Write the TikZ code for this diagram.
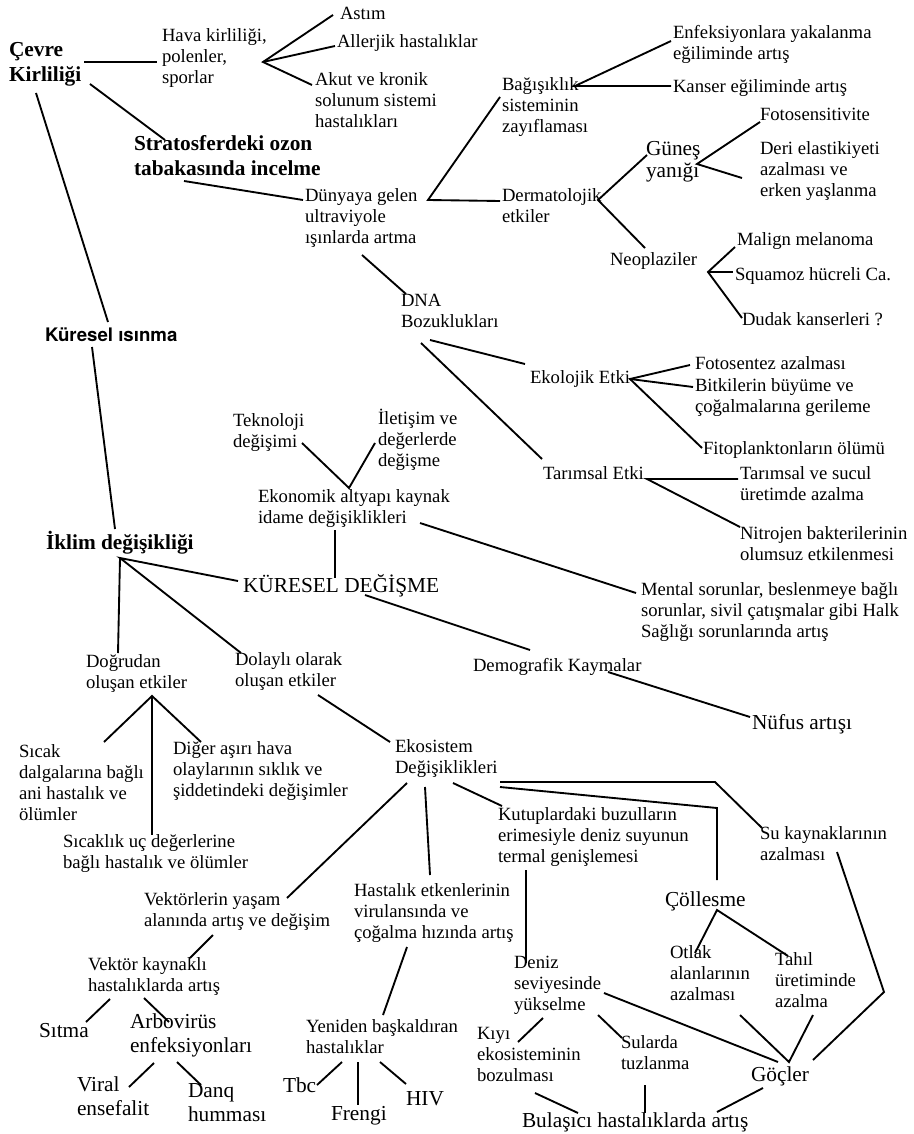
\documentclass[tikz,border=0pt]{standalone}
\usepackage{fontspec}
\setmainfont{Liberation Serif}
\newfontfamily\headsans{TeX Gyre Heros}
\tikzset{
    plain-text/.style = {anchor=north west, inner sep=0pt, outer sep=0pt, align=left, font=\fontsize{14}{15.75}\selectfont, execute at begin node={\rule{0pt}{13.5pt}}},
    big-text/.style = {plain-text, font=\fontsize{16}{18}\selectfont, execute at begin node={\rule{0pt}{15.75pt}}},
    head-text/.style = {big-text, font=\fontsize{16}{18.75}\selectfont\bfseries},
    link/.style = {line width=1.4pt},
}

\begin{document}
\begin{tikzpicture}[x=0.75pt, y=-0.75pt]
\path[use as bounding box, fill=white] (0,0) rectangle (913,1134);

% upper part
\node[head-text] (cevre) at (9,42) {Çevre\\Kirliliği};
\node[plain-text] (hava) at (162,29) {Hava kirliliği,\\polenler,\\sporlar};
\node[plain-text] (astim) at (340,2) {Astım};
\node[plain-text] (allerjik) at (337,30) {Allerjik hastalıklar};
\node[plain-text] (akut) at (315,73) {Akut ve kronik\\solunum sistemi\\hastalıkları};
\node[head-text] (strato) at (134,135) {Stratosferdeki ozon\\tabakasında incelme};
\node[plain-text] (dunya) at (305,189) {Dünyaya gelen\\ultraviyole\\ışınlarda artma};
\node[plain-text] (dna) at (401,294) {DNA\\Bozuklukları};
\node[plain-text, font=\fontsize{14}{15.75}\headsans\bfseries] (kuresel) at (45,323) {Küresel ısınma};
\node[plain-text] (bagisik) at (502,78) {Bağışıklık\\sisteminin\\zayıflaması};
\node[plain-text] (derma) at (502,189) {Dermatolojik\\etkiler};
\node[plain-text] (enfek) at (673,25) {Enfeksiyonlara yakalanma\\eğiliminde artış};
\node[plain-text] (kanser) at (673,75) {Kanser eğiliminde artış};
\node[big-text, font=\fontsize{16}{16.5}\selectfont] (gunes) at (646,141) {Güneş\\yanığı};
\node[plain-text] (fotosens) at (760,103) {Fotosensitivite};
\node[plain-text] (deri) at (760,142) {Deri elastikiyeti\\azalması ve\\erken yaşlanma};
\node[plain-text] (neopla) at (610,247) {Neoplaziler};
\node[plain-text] (malign) at (737,227) {Malign melanoma};
\node[plain-text] (squamoz) at (735,262) {Squamoz hücreli Ca.};
\node[plain-text] (dudak) at (742,307) {Dudak kanserleri ?};
\node[plain-text] (ekolojik) at (530,365) {Ekolojik Etki};
\node[plain-text] (fotosentez) at (695,351) {Fotosentez azalması};
\node[plain-text] (bitki) at (695,379) {Bitkilerin büyüme ve\\çoğalmalarına gerileme};
\node[plain-text] (fitopl) at (703,436) {Fitoplanktonların ölümü};
\node[plain-text] (tarimsal) at (543,461) {Tarımsal Etki};
\node[plain-text] (tarimsu) at (740,467) {Tarımsal ve sucul\\üretimde azalma};
\node[plain-text] (nitro) at (740,527) {Nitrojen bakterilerinin\\olumsuz etkilenmesi};

% middle part
\node[plain-text] (tekno) at (233,414) {Teknoloji\\değişimi};
\node[plain-text] (iletisim) at (378,409) {İletişim ve\\değerlerde\\değişme};
\node[plain-text] (ekonomik) at (258,490) {Ekonomik altyapı kaynak\\idame değişiklikleri};
\node[head-text] (iklim) at (46,528) {İklim değişikliği};
\node[big-text] (kdeg) at (243,571) {KÜRESEL DEĞİŞME};
\node[plain-text] (mental) at (641,583) {Mental sorunlar, beslenmeye bağlı\\sorunlar, sivil çatışmalar gibi Halk\\Sağlığı sorunlarında artış};
\node[plain-text] (demog) at (473,653) {Demografik Kaymalar};
\node[big-text] (nufus) at (752,708) {Nüfus artışı};
\node[plain-text] (dogru) at (86,655) {Doğrudan\\oluşan etkiler};
\node[plain-text] (dolayli) at (235,653) {Dolaylı olarak\\oluşan etkiler};
\node[plain-text] (sicak) at (19,745) {Sıcak\\dalgalarına bağlı\\ani hastalık ve\\ölümler};
\node[plain-text] (diger) at (173,742) {Diğer aşırı hava\\olaylarının sıklık ve\\şiddetindeki değişimler};
\node[plain-text] (sicaklik) at (63,835) {Sıcaklık uç değerlerine\\bağlı hastalık ve ölümler};
\node[plain-text] (ekosis) at (395,740) {Ekosistem\\Değişiklikleri};

% lower part
\node[plain-text] (kutup) at (498,808) {Kutuplardaki buzulların\\erimesiyle deniz suyunun\\termal genişlemesi};
\node[plain-text] (sukay) at (760,827) {Su kaynaklarının\\azalması};
\node[big-text] (colles) at (665,885) {Çöllesme};
\node[plain-text] (vektorler) at (144,893) {Vektörlerin yaşam\\alanında artış ve değişim};
\node[plain-text] (hastalik) at (354,884) {Hastalık etkenlerinin\\virulansında ve\\çoğalma hızında artış};
\node[plain-text] (vektork) at (88,958) {Vektör kaynaklı\\hastalıklarda artış};
\node[big-text] (sitma) at (39,1016) {Sıtma};
\node[big-text] (arbo) at (130,1014) {Arbovirüs\\enfeksiyonları};
\node[big-text] (viral) at (77,1077) {Viral\\ensefalit};
\node[big-text] (danq) at (188,1084) {Danq\\humması};
\node[plain-text] (yeniden) at (306,1020) {Yeniden başkaldıran\\hastalıklar};
\node[big-text] (tbc) at (283,1071) {Tbc};
\node[big-text] (frengi) at (331,1099) {Frengi};
\node[big-text] (hiv) at (406,1084) {HIV};
\node[plain-text] (deniz) at (514,956) {Deniz\\seviyesinde\\yükselme};
\node[plain-text] (otlak) at (670,946) {Otlak\\alanlarının\\azalması};
\node[plain-text] (tahil) at (775,953) {Tahıl\\üretiminde\\azalma};
\node[plain-text] (kiyi) at (477,1027) {Kıyı\\ekosisteminin\\bozulması};
\node[plain-text] (sularda) at (621,1036) {Sularda\\tuzlanma};
\node[big-text] (gocler) at (751,1060) {Göçler};
\node[big-text] (bulas) at (522,1106) {Bulaşıcı hastalıklarda artış};

% branching points
\coordinate (hava-fan) at ([shift={(101,33)}]hava.north west);
\coordinate (dunya-fan) at ([shift={(123,11)}]dunya.north west);
\coordinate (bagisik-fan) at ([shift={(73,8)}]bagisik.north west);
\coordinate (derma-fan) at ([shift={(96,11)}]derma.north west);
\coordinate (gunes-fan) at ([shift={(51,23)}]gunes.north west);
\coordinate (neopla-fan) at ([shift={(98,25)}]neopla.north west);
\coordinate (ekolojik-fan) at ([shift={(100,14)}]ekolojik.north west);
\coordinate (tarimsal-fan) at ([shift={(104,18)}]tarimsal.north west);
\coordinate (ekonomik-top) at ([shift={(91,-2)}]ekonomik.north west);
\coordinate (iklim-fan) at ([shift={(74,30)}]iklim.north west);
\coordinate (dogru-fan) at ([shift={(66,41)}]dogru.north west);
\coordinate (colles-fan) at ([shift={(52,25)}]colles.north west);

% links
\draw[link] ([shift={(75,20)}]cevre.north west) -- ([shift={(-5,33)}]hava.north west);
\draw[link] ([shift={(81,42)}]cevre.north west) -- ([shift={(31,5)}]strato.north west);
\draw[link] ([shift={(27,51)}]cevre.north west) -- ([shift={(63,-1)}]kuresel.north west);
\draw[link] ([shift={(47,24)}]kuresel.north west) -- ([shift={(69,1)}]iklim.north west);
\draw[link] ([shift={(-7,13)}]astim.north west) -- (hava-fan) -- ([shift={(-3,12)}]akut.north west);
\draw[link] (hava-fan) -- ([shift={(-2,16)}]allerjik.north west);
\draw[link] ([shift={(50,46)}]strato.north west) -- ([shift={(-2,11)}]dunya.north west);
\draw[link] ([shift={(-2,19)}]bagisik.north west) -- (dunya-fan) -- ([shift={(-2,12)}]derma.north west);
\draw[link] ([shift={(57,66)}]dunya.north west) -- ([shift={(5,0)}]dna.north west);
\draw[link] ([shift={(-2,16)}]enfek.north west) -- (bagisik-fan) -- ([shift={(-2,11)}]kanser.north west);
\draw[link] ([shift={(1,14)}]gunes.north west) -- (derma-fan) -- ([shift={(35,1)}]neopla.north west);
\draw[link] ([shift={(0,19)}]fotosens.north west) -- (gunes-fan) -- ([shift={(-18,36)}]deri.north west);
\draw[link] ([shift={(-2,20)}]malign.north west) -- (neopla-fan) -- ([shift={(0,11)}]dudak.north west);
\draw[link] (neopla-fan) -- ([shift={(-2,10)}]squamoz.north west);
\draw[link] ([shift={(29,46)}]dna.north west) -- ([shift={(-5,-1)}]ekolojik.north west);
\draw[link] ([shift={(20,49)}]dna.north west) -- ([shift={(-1,-2)}]tarimsal.north west);
\draw[link] ([shift={(-5,14)}]fotosentez.north west) -- (ekolojik-fan) -- ([shift={(-1,12)}]fitopl.north west);
\draw[link] (ekolojik-fan) -- ([shift={(-2,8)}]bitki.north west);
\draw[link] ([shift={(-2,12)}]tarimsu.north west) -- (tarimsal-fan) -- (nitro.north west);
\draw[link] ([shift={(69,29)}]tekno.north west) -- (ekonomik-top) -- ([shift={(-3,34)}]iletisim.north west);
\draw[link] ([shift={(77,40)}]ekonomik.north west) -- ([shift={(92,7)}]kdeg.north west);
\draw[link] ([shift={(162,33)}]ekonomik.north west) -- ([shift={(-5,10)}]mental.north west);
\draw[link] ([shift={(-5,10)}]kdeg.north west) -- (iklim-fan) -- ([shift={(6,0)}]dolayli.north west);
\draw[link] (iklim-fan) -- ([shift={(32,-2)}]dogru.north west);
\draw[link] ([shift={(122,24)}]kdeg.north west) -- ([shift={(57,-3)}]demog.north west);
\draw[link] ([shift={(135,19)}]demog.north west) -- ([shift={(-2,9)}]nufus.north west);
\draw[link] ([shift={(85,-3)}]sicak.north west) -- (dogru-fan) -- ([shift={(28,0)}]diger.north west);
\draw[link] (dogru-fan) -- ([shift={(89,0)}]sicaklik.north west);
\draw[link] ([shift={(83,42)}]dolayli.north west) -- ([shift={(-5,2)}]ekosis.north west);
\draw[link] ([shift={(12,43)}]ekosis.north west) -- ([shift={(143,5)}]vektorler.north west);
\draw[link] ([shift={(30,47)}]ekosis.north west) -- ([shift={(76,-9)}]hastalik.north west);
\draw[link] ([shift={(58,43)}]ekosis.north west) -- ([shift={(4,-2)}]kutup.north west);
\draw[link] ([shift={(105,47)}]ekosis.north west) -- ([shift={(52,-77)}]colles.north west) -- ([shift={(52,-5)}]colles.north west);
\draw[link] ([shift={(105,42)}]ekosis.north west) -- ([shift={(-45,-45)}]sukay.north west) -- ([shift={(2,1)}]sukay.north west);
\draw[link] ([shift={(77,25)}]sukay.north west) -- ([shift={(133,-68)}]gocler.north west) -- ([shift={(62,0)}]gocler.north west);
\draw[link] ([shift={(28,62)}]kutup.north west) -- ([shift={(12,7)}]deniz.north west);
\draw[link] ([shift={(25,7)}]otlak.north west) -- (colles-fan) -- ([shift={(13,3)}]tahil.north west);
\draw[link] ([shift={(70,69)}]otlak.north west) -- ([shift={(38,2)}]gocler.north west) -- ([shift={(38,62)}]tahil.north west);
\draw[link] ([shift={(90,37)}]deniz.north west) -- ([shift={(27,2)}]gocler.north west);
\draw[link] ([shift={(29,62)}]deniz.north west) -- ([shift={(41,15)}]kiyi.north west);
\draw[link] ([shift={(84,59)}]deniz.north west) -- ([shift={(1,2)}]sularda.north west);
\draw[link] ([shift={(58,66)}]kiyi.north west) -- ([shift={(56,7)}]bulas.north west);
\draw[link] ([shift={(24,49)}]sularda.north west) -- ([shift={(123,7)}]bulas.north west);
\draw[link] ([shift={(12,28)}]gocler.north west) -- ([shift={(195,6)}]bulas.north west);
\draw[link] ([shift={(69,42)}]vektorler.north west) -- ([shift={(102,0)}]vektork.north west);
\draw[link] ([shift={(53,63)}]hastalik.north west) -- ([shift={(77,-5)}]yeniden.north west);
\draw[link] ([shift={(22,41)}]vektork.north west) -- ([shift={(47,6)}]sitma.north west);
\draw[link] ([shift={(56,40)}]vektork.north west) -- ([shift={(39,8)}]arbo.north west);
\draw[link] ([shift={(24,49)}]arbo.north west) -- ([shift={(52,10)}]viral.north west);
\draw[link] ([shift={(47,48)}]arbo.north west) -- ([shift={(13,1)}]danq.north west);
\draw[link] ([shift={(36,42)}]yeniden.north west) -- ([shift={(34,14)}]tbc.north west);
\draw[link] ([shift={(52,42)}]yeniden.north west) -- ([shift={(27,6)}]frengi.north west);
\draw[link] ([shift={(74,42)}]yeniden.north west) -- (hiv.north west);
\end{tikzpicture}
\end{document}
